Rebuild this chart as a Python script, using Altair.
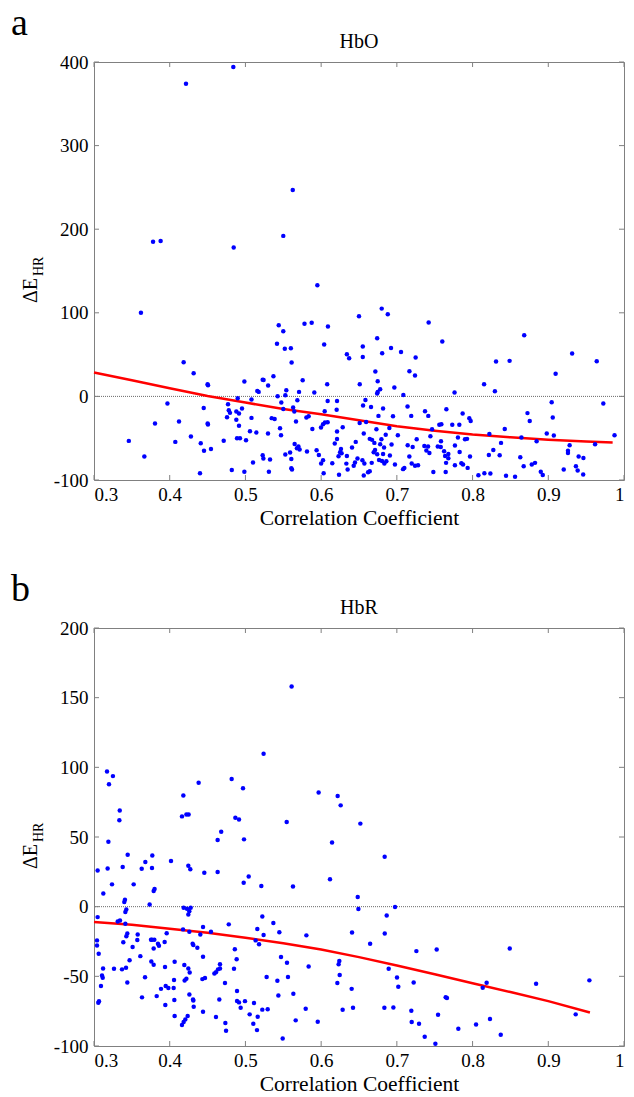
import altair as alt
import pandas as pd

# ---------------- data: panel a (HbO) ----------------
a_x = [0.378,0.388,0.4215,0.484,0.4845,0.55,0.5625,0.595,
0.362,0.544,0.550,0.578,0.5875,0.609,0.604,0.5417,0.552,0.56,0.561,0.634,0.637,0.4184,0.4316,0.450,0.4506,0.4986,0.5228,0.524,0.537,0.5756,0.530,0.5157,0.5175,0.554,0.5708,0.591,0.608,0.5425,0.5527,0.397,0.4898,0.508,0.5474,0.5686,0.6086,0.621,0.4449,0.477,0.478,0.4796,0.488,0.4915,0.4955,0.55,0.563,0.5646,0.6205,0.6047,0.3806,0.4123,0.4501,0.4505,0.4757,0.488,0.508,0.5347,0.5386,0.5457,0.4915,0.547,0.5298,0.5668,0.5805,0.5835,0.5884,0.5998,0.605,0.6086,0.6025,0.621,0.6285,0.346,0.3665,0.4074,0.428,0.441,0.4453,0.4545,0.4713,0.4889,0.4928,0.5008,0.506,0.5144,0.51,0.5228,0.5237,0.5325,0.531,0.4986,0.482,0.44,0.5527,0.559,0.565,0.57,0.5716,0.568,0.5813,0.5606,0.5606,0.5615,0.594,0.597,0.6,0.6025,0.6033,0.6147,0.618,0.621,0.6262,0.625,0.623,0.627,0.634,0.6333,0.6236,0.643,0.6447,0.648,0.6408,0.6457,0.6509,0.651,
0.680,0.688,0.650,0.742,0.760,0.674,0.6923,0.6806,0.7055,0.7248,0.655,0.655,0.6716,0.7166,0.724,0.6747,0.678,0.6747,0.674,0.6967,0.7086,0.7762,0.8152,0.8295,0.831,0.8489,0.8682,0.9097,0.9315,0.964,0.9727,0.9875,0.9045,0.9059,0.898,0.9073,0.9282,0.926,0.926,0.9401,0.9464,0.9618,0.9204,0.9365,0.9388,0.9461,0.8901,0.8927,0.8825,0.8782,0.8675,0.863,0.8846,0.8645,0.8755,0.8725,0.8425,0.8376,0.8222,0.8274,0.8358,0.8215,0.8442,0.8561,0.8077,0.8156,0.8235,0.7957,0.7975,0.7869,0.7825,0.7732,0.7927,0.79,0.7807,0.7767,0.7829,0.7966,0.7874,0.7852,0.7935,0.7767,0.7654,0.7588,0.7561,0.754,0.758,0.7583,0.7624,0.768,0.7637,0.765,0.768,0.7645,0.7482,0.7372,0.7415,0.7465,0.7443,0.7363,0.7412,0.743,0.739,0.7262,0.7209,0.7143,0.7165,0.7196,0.724,0.728,0.7099,0.7082,0.6975,0.719,0.7141,0.7013,0.693,0.6908,0.6949,0.6901,0.6853,0.6796,0.678,0.6831,0.673,0.6757,0.6818,0.6659,0.6585,0.6554,0.6594,0.6563,0.6642,0.6672,0.6703,0.6712,0.6694,0.674,0.6818,0.6765,0.6804,0.6835,0.6861,0.6668,0.6571,0.6545,0.662,0.6642,0.6563,0.635]
a_y = [185,186,374,394,178,192,247,133,
100,85,78,87,88,83.5,62,63,57,57.6,40.5,50.4,45.7,40.9,27.7,14.5,13.4,17.7,20,19.7,24,19.3,13,6.6,5.4,7.4,5.4,4.6,14.6,0.2,1.4,-8.6,-2.2,-3.8,-7.4,-4.6,-5.4,-5.4,-13.8,-9.4,-16.5,-19.7,-18,-20.5,-14.5,-15,-13.4,-18,-16,-17.7,-32.5,-30,-32.5,-33.7,-25,-28,-25.7,-26,-27,-38,-35,-46.4,-44.5,-30,-25.3,-23.7,-38.9,-37.3,-31.3,-30.9,-33.3,-42,-37,-53.2,-72,-54.4,-48,-56,-65,-63,-53,-50,-50,-52.4,-41.7,-43.3,-79,-70.4,-74.4,-75.6,-90,-90,-88,-92,-69.6,-67,-57,-60,-63.6,-62,-66,-74.8,-86,-87.5,-64.4,-70,-80.3,-76.4,-91.9,-80,-56.4,-51,-62.8,-66.8,-71.6,-68,-71.2,-80.4,-93.8,-83,-79,-74.4,-61,-54.4,-31.7,14.5,
105,98.3,96,88.3,65.6,69.6,58,51.6,53.2,46.5,59.6,47.2,29.7,30,25,18,8.6,5.4,3.4,10.6,1.8,4.6,14.6,6.2,41.7,42.5,73.2,27,51.2,42,-8.6,-46.5,-7,-25.3,-44.5,-46.9,-58.4,-65,-67.6,-72,-73.6,-57.2,-87.5,-83.5,-88.7,-93.5,-90,-94,-79.5,-81.5,-83.5,-72.8,-53.6,-49.2,-29.3,-20,-38.9,-55.6,-44.9,-64,-70.4,-70,-95,-96,-94.3,-91.9,-92.3,-26,-29.3,-20.5,-34,-34,-50.8,-51.2,-49.2,-58.8,-66.4,-72,-81.5,-80,-85.5,-82.3,-15.4,-33.3,-34,-60,-60.4,-53.6,-65.6,-69,-71.2,-79.5,-74,-90.3,-90.3,-17.7,-23.3,-39.3,-47.7,-59.2,-60,-67.6,-64.8,-51.2,-60.4,-58.4,-72,-80.3,-83,-82.3,-85.5,-87,-81.5,-23.3,-12.2,-46.5,-57.6,-70.8,-23.7,-37.7,-46,-51.2,-57.2,-61.2,-39.3,-23.3,-14.6,-12.6,-4.2,-11,-30.5,-44.5,-50.8,-52,-55.6,-64,-66.8,-69.2,-68.8,-76,-77.2,-80.3,-77.6,-79.5,-80.3,-76.4,-90.7,-89.5,-94.7,-87.5]

a_fit_x = [0.3,0.35,0.4,0.45,0.5,0.55,0.6,0.65,0.7,0.75,0.8,0.85,0.9,0.95,0.985]
a_fit_y = [28.5,19.3,9.8,0.6,-7.4,-15,-21.3,-28.5,-35.7,-41,-45.6,-49,-52,-54,-55.2]

# ---------------- data: panel b (HbR) ----------------
b_x = [0.561,0.524,0.3172,0.325,0.3198,0.334,0.3335,0.319,0.3445,0.3379,0.3048,0.318,0.363,0.3678,0.377,0.3766,0.4017,0.4162,0.422,0.425,0.418,0.4382,0.4818,0.4968,0.4867,0.4915,0.4633,0.468,0.4981,0.5545,0.5967,0.6218,0.6258,0.6518,0.6144,0.4246,0.4272,0.4457,0.4633,0.5043,0.6117,0.6839,
0.4977,0.521,0.5628,0.3123,0.3238,0.3524,0.3788,0.38,0.3735,0.34,0.3409,0.3427,0.3414,0.3048,0.3313,0.3343,0.3414,0.344,0.3427,0.3387,0.304,0.304,0.3062,0.312,0.3106,0.3115,0.3092,0.3066,0.3057,0.3264,0.337,0.3423,0.344,0.347,0.351,0.3577,0.3572,0.3612,0.3674,0.3634,0.3753,0.3766,0.3797,0.3788,0.3757,0.3788,0.3845,0.3858,0.3933,0.396,0.3885,0.3828,0.3938,0.3947,0.3982,0.4052,0.4057,0.3942,0.4061,0.4065,0.4065,0.4162,0.4184,0.4206,0.4237,0.4197,0.422,0.4193,0.4246,0.4264,0.426,0.4308,0.4312,0.4317,0.4303,0.4312,0.4365,0.4259,0.4176,0.4228,0.4259,0.4277,0.4246,0.4184,0.4404,0.444,0.444,0.4431,0.4466,0.444,0.4611,0.4735,0.4744,0.4664,0.4664,0.4638,0.4611,0.459,0.473,0.4655,0.4545,0.478,0.486,0.4884,0.4849,0.4889,0.4889,0.4915,0.4937,0.4994,0.5056,0.5104,0.5153,0.5162,0.5113,0.5223,0.5294,0.528,0.5422,0.5562,0.5492,0.5435,0.547,0.5157,0.524,0.5135,0.518,0.5369,0.5448,0.5223,0.5633,0.5549,0.5664,0.5805,0.5835,0.5796,0.5955,0.6214,0.6231,0.624,0.6245,0.6284,0.6408,0.6403,0.6421,0.6483,0.6492,
0.6866,0.6976,0.684,0.6647,0.7258,0.7526,0.8491,0.6892,0.7002,0.7019,0.7222,0.8134,0.8186,0.8839,0.9543,0.9362,0.7645,0.7662,0.6835,0.6954,0.7191,0.7544,0.7196,0.7293,0.7368,0.7509,0.7812,0.8046,0.823,0.8372]
b_y = [158,109.8,97,93.7,87.8,69,62,46.6,37.2,28.4,26,27.4,27.2,32,36.8,27.7,32.7,64.8,66.2,66.2,79.8,89,91.6,85,63.8,62.6,47.8,53.8,48.3,60.7,82,79.4,72.7,59.6,46.1,29.4,26.8,24.4,24.9,21.7,19.6,35.8,
17.2,14.8,14.5,9.5,16,16,11.2,12.6,1.6,3.3,5,-2,-3.9,-7.5,-10.6,-9.9,-12.3,-19.2,-21.3,-25.5,-24.2,-27.8,-33.8,-44.3,-49.4,-51,-57,-67.8,-69,-44.5,-45,-43.8,-54.4,-38.5,-29,-20,-24,-35.5,-50.6,-65.1,-23.8,-23.8,-23.8,-30,-39.3,-41.7,-26.6,-28,-25.4,-19,-59,-64.2,-43.3,-57,-58.4,-58.4,-52.6,-70.6,-67,-39.5,-78.5,-85,-82.8,-80.9,-78.5,-53,-51.7,-41.9,-44.3,-47.2,-63,-66.6,-67.3,-71.8,-26.6,-27.6,-29.5,-18,-16.3,-1.5,-3.2,-0.8,-5.6,-0.8,-20,-14.6,-36,-52,-51.2,-75.4,-79.2,-83.5,-89,-44.3,-41.4,-45,-47,-47.9,-54.8,-66.6,-18,-12.7,-30.5,-37.8,-44.5,-60.6,-67.7,-68.7,-72.5,-67.8,-77.3,-84,-88.6,-79,-69.2,-73.9,-73.7,-50.5,-53.2,-50.5,-94.6,-63.7,-36.2,-16,-20.4,-24.2,-27,-11.8,-18.4,-7,-62.5,-40.3,-81.6,-20.6,-42.9,-73.3,-82.6,-54.8,-41.4,-39,-49,-74,-18.5,-59,-72.5,6.9,-1.7,
-6.3,-0.3,-19.2,-26.6,-31.9,-30.7,-30,-44.6,-50.8,-57.5,-54.4,-58.2,-54.6,-55.3,-52.9,-77.3,-65,-65.6,-72.6,-72.3,-74.7,-77.6,-82.8,-84,-93.4,-98.4,-87.6,-84.5,-80.7,-91.9]

b_fit_x = [0.3,0.35,0.4,0.45,0.5,0.55,0.6,0.65,0.7,0.75,0.8,0.85,0.9,0.955]
b_fit_y = [-11,-13,-15.9,-18.8,-22.3,-26.3,-30.7,-36.2,-42.2,-48.5,-54.9,-61.3,-67.8,-76]

x_ticks = [0.3,0.4,0.5,0.6,0.7,0.8,0.9,1.0]
a_y_ticks = [-100,0,100,200,300,400]
b_y_ticks = [-100,-50,0,50,100,150,200]

FONT = "Liberation Serif"
W, H = 530, 418
GRAY = "#808080"


def panel(px, py, fx, fy, yticks, ydom, letter, name):
    xs = alt.Scale(domain=[0.3, 1.0], nice=False, zero=False)
    ys = alt.Scale(domain=ydom, nice=False, zero=False)
    pts = pd.DataFrame({"x": px, "y": py})
    fit = pd.DataFrame({"x": fx, "y": fy})
    xt = pd.DataFrame({"v": x_ticks})
    yt = pd.DataFrame({"v": yticks})
    zero = pd.DataFrame({"v": [0]})

    xaxis = alt.Axis(values=x_ticks, format=".1~f", ticks=False, domain=False, grid=False,
                     labelFont=FONT, labelFontSize=19, labelColor="black", labelPadding=5,
                     title="Correlation Coefficient", titleFont=FONT, titleFontSize=21.5,
                     titleFontWeight="normal", titleColor="black", titlePadding=3)
    yaxis = alt.Axis(values=yticks, labelExpr="'' + datum.value", ticks=False, domain=False,
                     grid=False, labelFont=FONT, labelFontSize=19, labelColor="black",
                     labelPadding=6, title=None)

    base_pts = alt.Chart(pts).mark_circle(size=20, color="#0000ff", opacity=1).encode(
        x=alt.X("x:Q", scale=xs, axis=xaxis),
        y=alt.Y("y:Q", scale=ys, axis=yaxis),
    )
    zline = alt.Chart(zero).mark_rule(color="#444444", strokeDash=[1, 1], strokeWidth=0.8).encode(
        y=alt.Y("v:Q", scale=ys))
    fitl = alt.Chart(fit).mark_line(color="#ff0000", strokeWidth=2.5).encode(
        x=alt.X("x:Q", scale=xs), y=alt.Y("y:Q", scale=ys))
    tb = alt.Chart(xt).mark_rule(color=GRAY).encode(
        x=alt.X("v:Q", scale=xs), y=alt.value(H), y2=alt.value(H - 5))
    tt = alt.Chart(xt).mark_rule(color=GRAY).encode(
        x=alt.X("v:Q", scale=xs), y=alt.value(0), y2=alt.value(5))
    tl = alt.Chart(yt).mark_rule(color=GRAY).encode(
        y=alt.Y("v:Q", scale=ys), x=alt.value(0), x2=alt.value(5))
    tr = alt.Chart(yt).mark_rule(color=GRAY).encode(
        y=alt.Y("v:Q", scale=ys), x=alt.value(W), x2=alt.value(W - 5))

    lab = pd.DataFrame({"t": [letter], "n": [name], "d": ["\u0394E"], "s": ["HR"]})
    t_letter = alt.Chart(lab).mark_text(font=FONT, fontSize=38, align="left",
                                        baseline="alphabetic", color="black").encode(
        text="t:N", x=alt.value(-83), y=alt.value(-27))
    t_name = alt.Chart(lab).mark_text(font=FONT, fontSize=20, align="center",
                                      baseline="middle", color="black").encode(
        text="n:N", x=alt.value(W / 2), y=alt.value(-20))
    t_d = alt.Chart(lab).mark_text(font=FONT, fontSize=20, align="left", baseline="middle",
                                   angle=270, color="black").encode(
        text="d:N", x=alt.value(-63), y=alt.value(241))
    t_s = alt.Chart(lab).mark_text(font=FONT, fontSize=14, align="left", baseline="middle",
                                   angle=270, color="black").encode(
        text="s:N", x=alt.value(-55), y=alt.value(214))

    return alt.layer(zline, fitl, base_pts, tb, tt, tl, tr, t_letter, t_name, t_d, t_s).properties(
        width=W, height=H)


pa = panel(a_x, a_y, a_fit_x, a_fit_y, a_y_ticks, [-100, 400], "a", "HbO")
pb = panel(b_x, b_y, b_fit_x, b_fit_y, b_y_ticks, [-100, 200], "b", "HbR")

chart = alt.vconcat(pa, pb, spacing=148, bounds="flush").properties(
    padding={"left": 10, "top": 4, "right": 5, "bottom": 5},
    background="white",
).configure_view(stroke=GRAY, strokeWidth=1)

chart.save("out.html", embed_options={"renderer": "svg", "actions": False})
